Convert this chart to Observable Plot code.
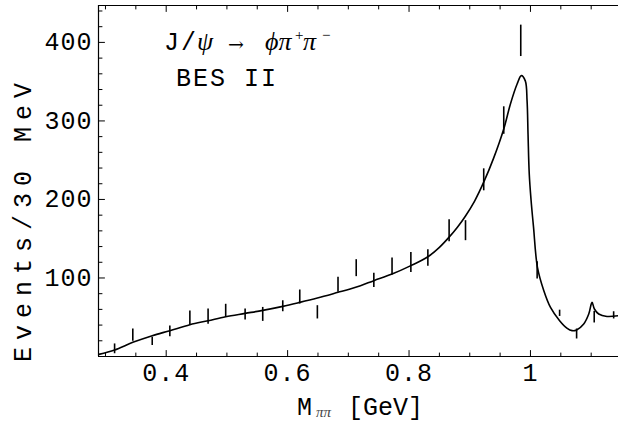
<!DOCTYPE html>
<html><head><meta charset="utf-8">
<script src="https://cdn.jsdelivr.net/npm/d3@7"></script>
<script src="https://cdn.jsdelivr.net/npm/@observablehq/plot@0.6"></script>
<style>body{margin:0;background:#fff} svg{display:block}</style>
</head><body><div id="chart"></div>
<script>
// Data points (error bars): bin centre [GeV], lower and upper edge [events/30 MeV]
const barX  = [0.315,0.345,0.377,0.406,0.439,0.469,0.498,0.530,0.559,0.592,0.620,0.649,0.683,0.713,0.742,0.772,0.803,0.831,0.866,0.893,0.923,0.956,0.984,1.011,1.048,1.076,1.105,1.137];
const barLo = [3.5,19.5,14,25,39.5,41,50,46.5,44.7,57,66.9,47.8,81.7,101.7,88,103.8,107,114.8,146,147.5,211,283,382,98.7,51,22.3,42.7,47.8];
const barHi = [16,35,24.5,39,58,60.5,66.5,60.5,62.5,71,84.7,64.7,100.8,123.3,105.9,125.5,132.6,136,174,173,239,318,422,120.8,59,35,57.5,57];
// Fit curve
const fitX = [0.289,0.315,0.345,0.377,0.406,0.439,0.469,0.498,0.530,0.559,0.592,0.620,0.649,0.683,0.703,0.720,0.742,0.772,0.803,0.831,0.850,0.866,0.880,0.893,0.908,0.923,0.939,0.956,0.967,0.978,0.985,0.9915,0.9944,0.996,0.998,1.001,1.005,1.0115,1.022,1.033,1.048,1.0605,1.0686,1.076,1.0877,1.096,1.1014,1.1053,1.1124,1.126,1.145];
const fitY = [2.7,8.3,18,26.5,32.9,40.5,45.6,50.7,54.9,58.7,63.8,68.9,74.5,81.7,86,90.2,96.6,105,115.7,127,139,152,165,179,198,222,252,289.8,321.6,347,357.7,351,325.8,283,232.5,199,165,113.5,83.8,62.5,45.6,35.8,32.9,33.8,41.4,54.1,69,60.5,54.1,51,52];
// Tick labels
const xTickLabels = [0.4, 0.6, 0.8, 1];
const yTickLabels = [100, 200, 300, 400];

const xDomain = [0.2885, 1.145];
const yDomain = [0, 447];
const xMinor = d3.range(0.30, 1.1401, 0.05).map(v => +v.toFixed(2)).filter(v => !xTickLabels.some(t => Math.abs(t - v) < 1e-6));
const yMinor = d3.range(20, 441, 20).filter(v => v % 100 !== 0);

const bars = barX.map((x, i) => ({x, lo: barLo[i], hi: barHi[i]}));
const fit = fitX.map((x, i) => ({x, y: fitY[i]}));

const tickShape = {draw(ctx, l) { ctx.moveTo(0, 0); ctx.lineTo(0, -l); }};
const mono = "'Liberation Mono', 'Courier New', monospace";

function ticks(vals, len, axis) {
  if (axis === "x") return [
    Plot.vector(vals, {x: d => d, y: yDomain[0], length: len, rotate: 0, anchor: "start", shape: tickShape, stroke: "black", strokeWidth: 1}),
    Plot.vector(vals, {x: d => d, y: yDomain[1], length: len, rotate: 180, anchor: "start", shape: tickShape, stroke: "black", strokeWidth: 1})
  ];
  return [Plot.vector(vals, {x: xDomain[0], y: d => d, length: len, rotate: 90, anchor: "start", shape: tickShape, stroke: "black", strokeWidth: 1})];
}

const svg = Plot.plot({
  width: 618, height: 425,
  marginLeft: 98, marginRight: 0, marginTop: 5, marginBottom: 69,
  style: {fontFamily: mono, fontSize: "25px", background: "white", color: "black", overflow: "visible"},
  x: {domain: xDomain},
  y: {domain: yDomain},
  marks: [
    Plot.axisX(xTickLabels, {tickSize: 0, tickPadding: 7, tickFormat: d => d === 1 ? "1" : d.toFixed(1), label: null, fontSize: 25, fontFamily: mono}),
    Plot.axisY(yTickLabels, {tickSize: 0, tickPadding: 6, label: null, fontSize: 25, fontFamily: mono}),
    ...ticks(xTickLabels, 6, "x"),
    ...ticks(xMinor, 3.5, "x"),
    ...ticks(yTickLabels, 6, "y"),
    ...ticks(yMinor, 3.5, "y"),
    Plot.ruleX([xDomain[0]], {stroke: "black", strokeWidth: 1.2}),
    Plot.ruleY([yDomain[0], yDomain[1]], {stroke: "black", strokeWidth: 1.2}),
    Plot.ruleX(bars, {x: "x", y1: "lo", y2: "hi", stroke: "black", strokeWidth: 1.6}),
    Plot.line(fit, {x: "x", y: "y", curve: "catmull-rom", stroke: "black", strokeWidth: 1.6, clip: true})
  ]
});

const s = d3.select(svg);
s.selectAll("g[aria-label='x-axis tick label'] text, g[aria-label='y-axis tick label'] text").attr("letter-spacing", "1px");

// Title: J/psi -> phi pi+ pi-
const serif = "'Liberation Serif', 'DejaVu Serif', serif";
const t = s.append("text").attr("y", 50).attr("fill", "black").attr("text-anchor", "start");
t.append("tspan").attr("x", 164).attr("font-family", mono).attr("font-size", 25).text("J");
t.append("tspan").attr("x", 181).attr("font-family", mono).attr("font-size", 25).text("/");
t.append("tspan").attr("x", 197).attr("font-family", serif).attr("font-style", "italic").attr("font-size", 26).text("ψ");
t.append("tspan").attr("x", 228).attr("y", 51).attr("font-family", "'DejaVu Serif', serif").attr("font-size", 19).text("→");
t.append("tspan").attr("x", 265).attr("y", 50).attr("font-family", serif).attr("font-style", "italic").attr("font-size", 26).text("ϕπ");
t.append("tspan").attr("x", 295).attr("y", 40).attr("font-family", serif).attr("font-size", 15).text("+");
t.append("tspan").attr("x", 303).attr("y", 50).attr("font-family", serif).attr("font-style", "italic").attr("font-size", 26).text("π");
t.append("tspan").attr("x", 322).attr("y", 40).attr("font-family", serif).attr("font-size", 15).text("−");

s.append("text").attr("x", 176).attr("y", 86).attr("text-anchor", "start").attr("font-family", mono).attr("font-size", 25)
  .attr("letter-spacing", "2px").attr("fill", "black").text("BES II");

// x-axis label
const xl = s.append("text").attr("y", 415).attr("fill", "black").attr("text-anchor", "start");
xl.append("tspan").attr("x", 297).attr("font-family", mono).attr("font-size", 25).text("M");
xl.append("tspan").attr("x", 316).attr("y", 417).attr("font-family", serif).attr("font-style", "italic").attr("font-size", 15).attr("fill", "#444").text("ππ");
xl.append("tspan").attr("x", 348).attr("y", 415).attr("font-family", mono).attr("font-size", 25).text("[GeV]");

// y-axis label
s.append("text").attr("transform", "translate(31,219) rotate(-90)").attr("text-anchor", "middle")
  .attr("font-family", mono).attr("font-size", 25).attr("letter-spacing", "7px").attr("fill", "black").text("Events/30 MeV");

document.getElementById("chart").appendChild(svg);
</script>
</body></html>
